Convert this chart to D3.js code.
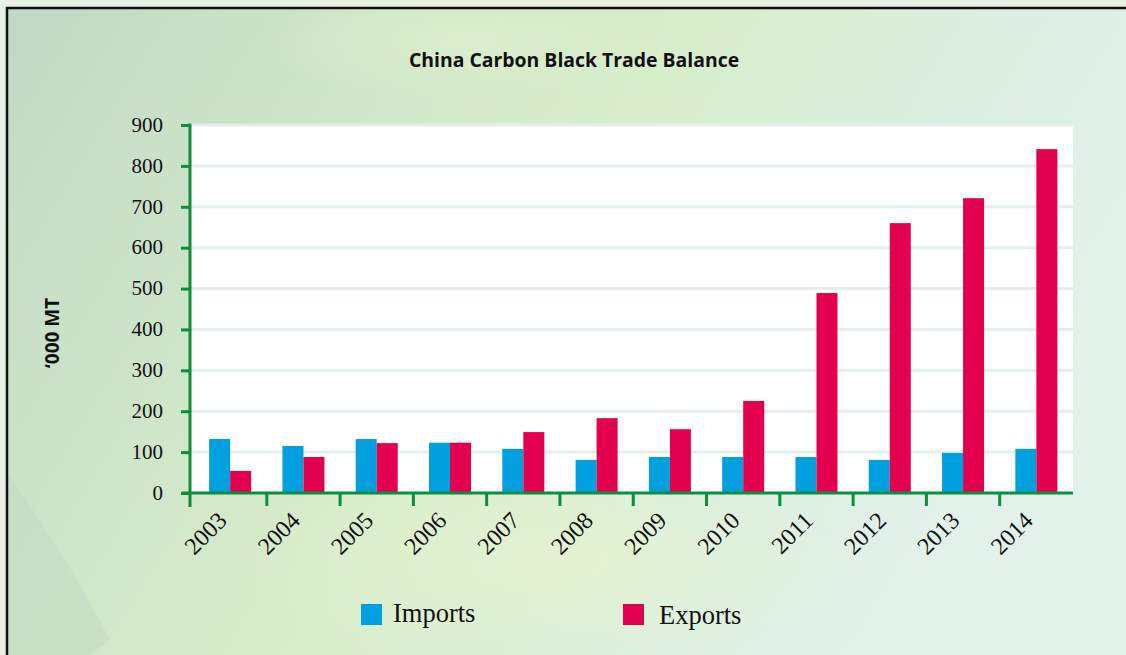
<!DOCTYPE html>
<html><head><meta charset="utf-8">
<script src="https://cdn.jsdelivr.net/npm/d3@7"></script>
<style>html,body{margin:0;padding:0;overflow:hidden;background:#e4f0e6}</style>
</head><body>
<svg id="chart" width="1126" height="655"></svg>
<script>
const years = ["2003","2004","2005","2006","2007","2008","2009","2010","2011","2012","2013","2014"];
const imports = [132,115,132,123,108,81,88,88,88,81,98,108];
const exports = [54,88,122,123,149,183,156,225,489,660,721,841];
const seriesNames = ["Imports","Exports"];
const seriesColors = ["#009fe0","#e2004f"];
const yTicks = [0,100,200,300,400,500,600,700,800,900];

(function(){
const svg = d3.select("#chart");
const defs = svg.append("defs");
const g1 = defs.append("linearGradient").attr("id","bg").attr("x1","0").attr("y1","0").attr("x2","1").attr("y2","0.35");
g1.append("stop").attr("offset","0").attr("stop-color","#c2d8c5");
g1.append("stop").attr("offset","0.3").attr("stop-color","#cfe5c9");
g1.append("stop").attr("offset","0.55").attr("stop-color","#d8edca");
g1.append("stop").attr("offset","0.8").attr("stop-color","#dcefe2");
g1.append("stop").attr("offset","1").attr("stop-color","#e2f1ea");
const g2 = defs.append("radialGradient").attr("id","glow").attr("cx","0.5").attr("cy","0.5").attr("r","0.5");
g2.append("stop").attr("offset","0").attr("stop-color","#e4f3cf").attr("stop-opacity",0.9);
g2.append("stop").attr("offset","1").attr("stop-color","#e4f3cf").attr("stop-opacity",0);

svg.append("rect").attr("width",1126).attr("height",655).attr("fill","#e6f1e4");
svg.append("rect").attr("x",6).attr("y",7).attr("width",1120).attr("height",648).attr("fill","url(#bg)");
svg.append("ellipse").attr("cx",560).attr("cy",560).attr("rx",320).attr("ry",120).attr("fill","url(#glow)");
svg.append("ellipse").attr("cx",460).attr("cy",40).attr("rx",200).attr("ry",60).attr("fill","url(#glow)").attr("opacity",0.6);
svg.append("path").attr("d","M6,470 C40,520 80,580 110,640 L90,655 L6,655 Z").attr("fill","#bcd6c4").attr("opacity",0.4);
svg.append("path").attr("d","M7,655 V8 H1126").attr("fill","none").attr("stroke","#111").attr("stroke-width",2.5);

svg.append("text").attr("x",574).attr("y",67).attr("text-anchor","middle")
  .attr("font-family","'Open Sans', sans-serif").attr("font-weight",700).attr("font-size",19.4)
  .attr("fill","#111").text("China Carbon Black Trade Balance");

const pL = 190, pR = 1073, pT = 125, pB = 493;
const x = d3.scaleBand().domain(years).range([193.5, 1073]).paddingInner(0).paddingOuter(0);
const y = d3.scaleLinear().domain([0,900]).range([pB, pT]);
const xs = d3.scaleBand().domain(seriesNames).range([0, 42]);

svg.append("rect").attr("x",pL).attr("y",pT).attr("width",pR-pL).attr("height",pB-pT).attr("fill","#ffffff");

svg.append("g").selectAll("line").data(yTicks.filter(d=>d>0)).join("line")
  .attr("x1",pL).attr("x2",pR).attr("y1",d=>y(d)).attr("y2",d=>y(d))
  .attr("stroke","#e3efe8").attr("stroke-width",3);

const series = [imports, exports];
const gBars = svg.append("g");
years.forEach((yr,i)=>{
  seriesNames.forEach((s,j)=>{
    const v = series[j][i];
    gBars.append("rect")
      .attr("x", x(yr) + x.bandwidth()/2 - 21 + xs(s))
      .attr("y", y(v)).attr("width", xs.bandwidth()).attr("height", y(0)-y(v))
      .attr("fill", seriesColors[j]);
  });
});

const green = "#0a8f3c";
const yAxis = d3.axisLeft(y).tickValues(yTicks).tickSize(9).tickPadding(18);
const gy = svg.append("g").attr("transform",`translate(${pL},0)`).call(yAxis);
gy.select(".domain").remove();
gy.selectAll(".tick line").attr("stroke",green).attr("stroke-width",3);
gy.selectAll(".tick text").attr("font-family","'Liberation Serif', serif").attr("font-size",21).attr("fill","#111").attr("dy","0.3em");
svg.append("line").attr("x1",pL).attr("x2",pL).attr("y1",pT-1.5).attr("y2",pB+14).attr("stroke",green).attr("stroke-width",3);

const boundaries = years.map(d=>x(d)).slice(1);
const gx = svg.append("g").attr("transform",`translate(0,${pB})`);
gx.append("line").attr("x1",pL-8).attr("x2",pR).attr("y1",0).attr("y2",0).attr("stroke",green).attr("stroke-width",3);
gx.selectAll("line.tk").data(boundaries).join("line").attr("class","tk")
  .attr("x1",d=>d).attr("x2",d=>d).attr("y1",0).attr("y2",13).attr("stroke",green).attr("stroke-width",3);
const xAxis = d3.axisBottom(x).tickSize(0).tickPadding(0);
const gxl = svg.append("g").attr("transform",`translate(0,${pB})`).call(xAxis);
gxl.select(".domain").remove();
gxl.selectAll(".tick text")
  .attr("font-family","'Liberation Serif', serif").attr("font-size",24).attr("fill","#111")
  .attr("text-anchor","end").attr("dy",0).attr("y",0).attr("x",0)
  .attr("transform","translate(-2,29) rotate(-45)");

svg.append("text").attr("transform","translate(59,333) rotate(-90)").attr("text-anchor","middle")
  .attr("font-family","'Open Sans', sans-serif").attr("font-weight",700).attr("font-size",19)
  .attr("fill","#111").text("\u2018000 MT");

const legX = [361, 623];
const legTX = [393, 659];
seriesNames.forEach((s,j)=>{
  svg.append("rect").attr("x",legX[j]).attr("y",604).attr("width",21).attr("height",21).attr("fill",seriesColors[j]);
  svg.append("text").attr("x",legTX[j]).attr("y",622+j*2).attr("font-family","'Liberation Serif', serif")
    .attr("font-size",26.5).attr("fill","#111").text(s);
});
})();
</script>
</body></html>
